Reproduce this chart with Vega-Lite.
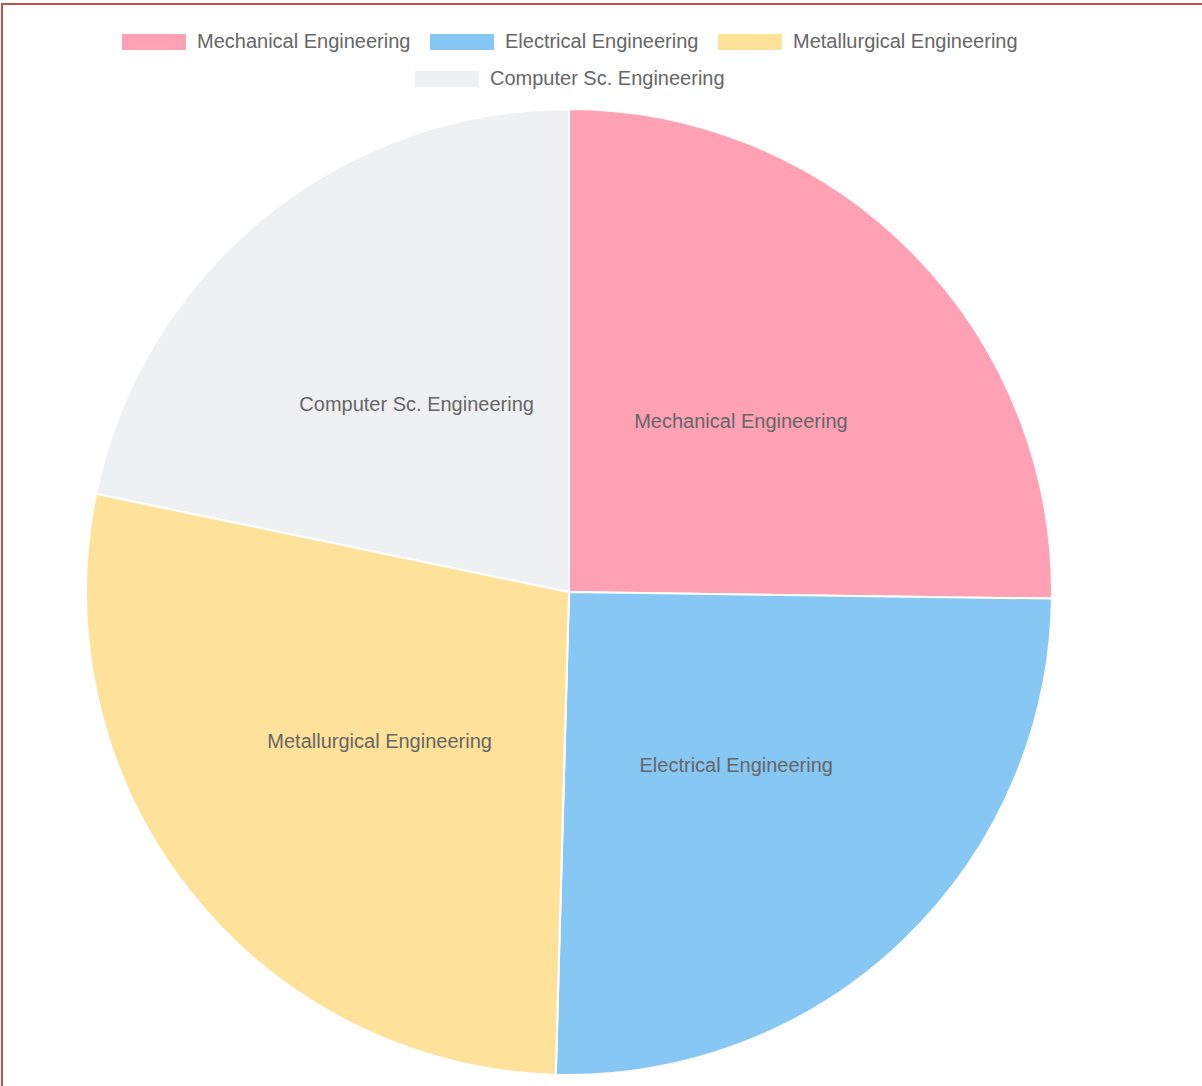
{
  "$schema": "https://vega.github.io/schema/vega-lite/v6.json",
  "width": 1206,
  "height": 1088,
  "autosize": {"type": "none"},
  "padding": {"left": 2, "top": 4, "right": -6, "bottom": -6},
  "background": "white",
  "view": {"stroke": "#c4504c", "strokeWidth": 2},
  "data": {
    "values": [
      {"dept": "Mechanical Engineering", "value": 116, "idx": 1},
      {"dept": "Electrical Engineering", "value": 116, "idx": 2},
      {"dept": "Metallurgical Engineering", "value": 128, "idx": 3},
      {"dept": "Computer Sc. Engineering", "value": 100, "idx": 4}
    ]
  },
  "encoding": {
    "theta": {"field": "value", "type": "quantitative", "stack": true},
    "order": {"field": "idx", "type": "quantitative"}
  },
  "layer": [
    {
      "mark": {"type": "arc", "radius": 483, "x": 567, "y": 588, "stroke": "white", "strokeWidth": 2},
      "encoding": {
        "color": {
          "field": "dept", "type": "nominal",
          "scale": {
            "domain": ["Mechanical Engineering", "Electrical Engineering", "Metallurgical Engineering", "Computer Sc. Engineering"],
            "range": ["#FFA1B5", "#86C7F3", "#FFE29A", "#EFF0F2"]
          },
          "legend": {
            "values": ["Mechanical Engineering", "Electrical Engineering", "Metallurgical Engineering"],
            "orient": "none", "legendX": 120, "legendY": 6, "direction": "horizontal", "title": null
          }
        }
      }
    },
    {
      "mark": {"type": "arc", "radius": 483, "x": 567, "y": 588, "stroke": "white", "strokeWidth": 2},
      "encoding": {
        "color": {
          "field": "dept", "type": "nominal",
          "scale": {
            "domain": ["Mechanical Engineering", "Electrical Engineering", "Metallurgical Engineering", "Computer Sc. Engineering"],
            "range": ["#FFA1B5", "#86C7F3", "#FFE29A", "#EFF0F2"]
          },
          "legend": {
            "values": ["Computer Sc. Engineering"],
            "orient": "none", "legendX": 413, "legendY": 43, "direction": "horizontal", "title": null
          }
        }
      }
    },
    {
      "mark": {"type": "text", "radius": 241.5, "x": 567, "y": 588, "font": "Liberation Sans", "fontSize": 20, "fill": "#666666", "align": "center", "baseline": "middle"},
      "encoding": {
        "detail": {"field": "dept", "type": "nominal"},
        "text": {"field": "dept", "type": "nominal"}
      }
    }
  ],
  "resolve": {"scale": {"color": "independent"}},
  "config": {
    "legend": {
      "symbolType": "M-1,-0.25H1V0.25H-1Z",
      "symbolSize": 4096,
      "symbolStrokeWidth": 0,
      "symbolOpacity": 1,
      "labelFont": "Liberation Sans",
      "labelFontSize": 20,
      "labelColor": "#666666",
      "labelOffset": 11,
      "labelLimit": 500,
      "columnPadding": 19,
      "padding": 0
    }
  }
}
